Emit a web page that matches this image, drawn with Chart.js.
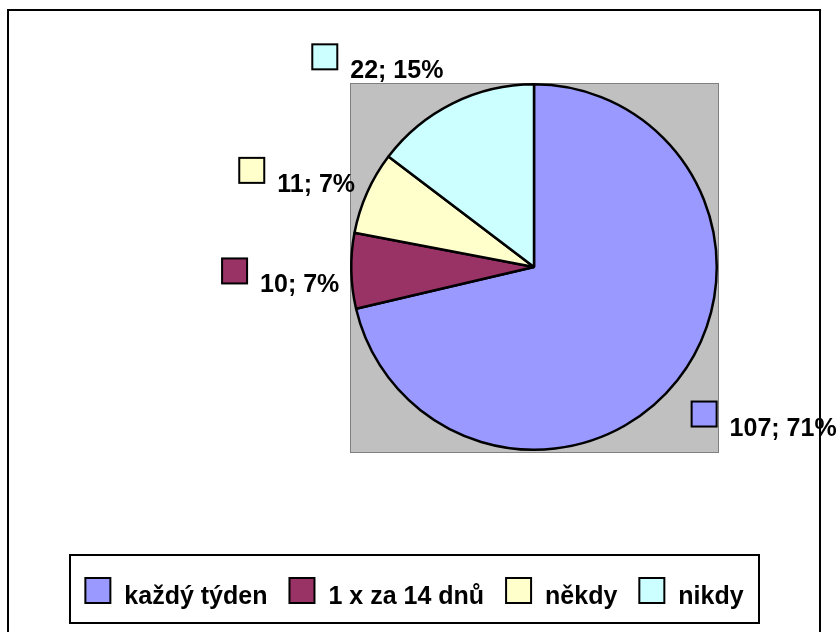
<!DOCTYPE html>
<html>
<head>
<meta charset="utf-8">
<script src="https://cdn.jsdelivr.net/npm/chart.js@4.4.1/dist/chart.umd.min.js"></script>
<style>
  body { margin: 0; background: #fff; }
  canvas { display: block; }
</style>
</head>
<body>
<canvas id="chart" width="836" height="632"></canvas>
<script>
const categories = ["každý týden", "1 x za 14 dnů", "někdy", "nikdy"];
const counts = [107, 10, 11, 22];
const sliceColors = ["#9999ff", "#993366", "#ffffcc", "#ccffff"];

const FONT = "bold 25px 'Liberation Sans', Arial, sans-serif";
const total = counts.reduce((s, v) => s + v, 0);
const percents = counts.map(v => Math.round(v / total * 100));

// small per-label nudges so the labels sit where Excel put them
const labelNudge = [[5, 20], [0, 4], [-1, -6], [-4, -16]];

function drawKey(ctx, x, y, color) {
  ctx.fillStyle = color;
  ctx.fillRect(x, y, 25, 25);
  ctx.strokeStyle = "#000";
  ctx.lineWidth = 2;
  ctx.strokeRect(x, y, 25, 25);
}

const excelLook = {
  id: "excelLook",
  beforeDraw(chart) {
    const { ctx, chartArea: a } = chart;
    ctx.save();
    ctx.fillStyle = "#fff";
    ctx.fillRect(0, 0, chart.width, chart.height);
    ctx.fillStyle = "#c0c0c0";
    ctx.fillRect(a.left, a.top, a.width + 1, a.height + 2);
    ctx.strokeStyle = "#808080";
    ctx.lineWidth = 1;
    ctx.strokeRect(a.left + 0.5, a.top + 0.5, a.width, a.height + 1);
    ctx.restore();
  },
  afterDraw(chart) {
    const ctx = chart.ctx;
    const arcs = chart.getDatasetMeta(0).data;
    ctx.save();
    ctx.font = FONT;
    ctx.textBaseline = "alphabetic";
    ctx.textAlign = "left";

    // data labels: "value; percent"
    arcs.forEach((arc, i) => {
      const mid = (arc.startAngle + arc.endAngle) / 2;
      const ux = Math.cos(mid), uy = Math.sin(mid);
      const ax = arc.x + ux * (arc.outerRadius + 12);
      const ay = arc.y + uy * (arc.outerRadius + 12);
      const text = counts[i] + "; " + percents[i] + "%";
      const w = 38 + ctx.measureText(text).width, h = 34;
      const left = (ux < 0 ? ax - w : ax) + labelNudge[i][0];
      const top = ay - h * (1 - uy) / 2 + labelNudge[i][1];
      drawKey(ctx, left, top, sliceColors[i]);
      ctx.fillStyle = "#000";
      ctx.fillText(text, left + 38, top + 34);
    });

    // outer chart frame
    ctx.strokeStyle = "#000";
    ctx.lineWidth = 2;
    ctx.strokeRect(8, 10, 812, 700);

    // legend box along the bottom
    const box = { left: 70, top: 555, right: 759, bottom: 623 };
    ctx.fillStyle = "#fff";
    ctx.fillRect(box.left, box.top, box.right - box.left, box.bottom - box.top);
    ctx.strokeRect(box.left, box.top, box.right - box.left, box.bottom - box.top);
    const gapText = 14, gapItem = 22;
    const widths = categories.map(c => 25 + gapText + ctx.measureText(c).width);
    const full = widths.reduce((s, v) => s + v, 0) + gapItem * (categories.length - 1);
    let x = (box.left + box.right) / 2 - full / 2;
    categories.forEach((c, i) => {
      drawKey(ctx, x, 578, sliceColors[i]);
      ctx.fillStyle = "#000";
      ctx.fillText(c, x + 25 + gapText, 604);
      x += widths[i] + gapItem;
    });
    ctx.restore();
  }
};

new Chart(document.getElementById("chart"), {
  type: "pie",
  data: {
    labels: categories,
    datasets: [{
      data: counts,
      backgroundColor: sliceColors,
      borderColor: "#000",
      borderWidth: 2.5
    }]
  },
  options: {
    responsive: false,
    animation: false,
    layout: { padding: { left: 350, right: 118, top: 83, bottom: 181 } },
    plugins: {
      legend: { display: false },
      tooltip: { enabled: false }
    },
    events: []
  },
  plugins: [excelLook]
});
</script>
</body>
</html>
